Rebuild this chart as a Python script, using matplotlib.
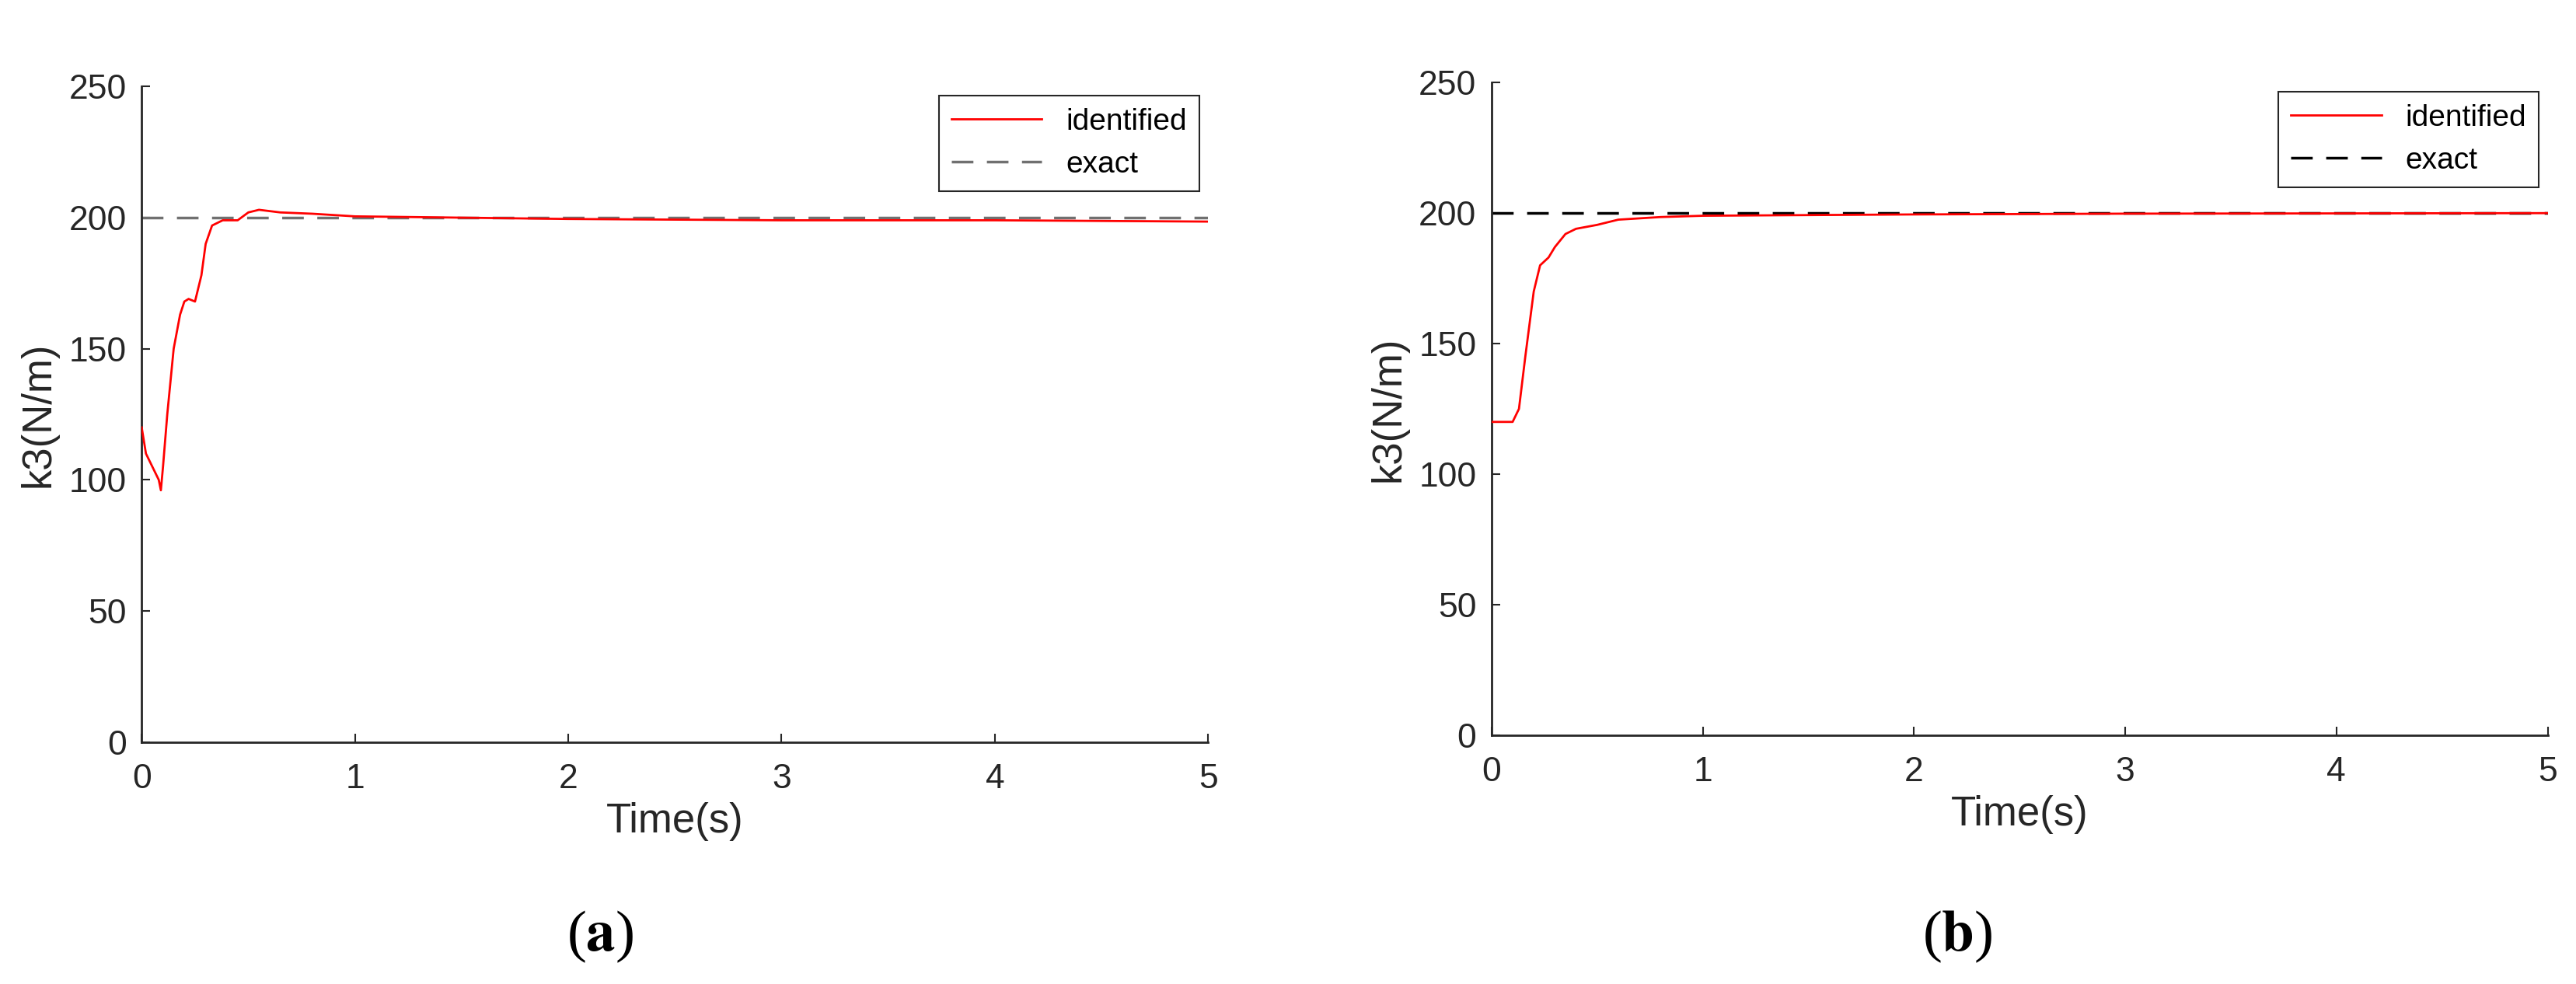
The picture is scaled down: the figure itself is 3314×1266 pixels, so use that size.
import matplotlib

matplotlib.use("Agg")
import matplotlib.pyplot as plt

plt.rcParams["font.family"] = ["Liberation Sans", "DejaVu Sans"]

t_a = [0, 0.02, 0.05, 0.08, 0.09, 0.1, 0.12, 0.15, 0.18, 0.2, 0.22, 0.25, 0.28, 0.3, 0.33,
       0.38, 0.45, 0.5, 0.55, 0.65, 0.8, 1.0, 1.5, 2, 3, 4, 5]
k_a = [120, 110, 105, 100, 96, 105, 125, 150, 163, 168, 169, 168, 178, 190, 197,
       199, 199, 202, 203, 202, 201.5, 200.5, 200, 199.5, 199, 199, 198.5]
t_b = [0, 0.1, 0.13, 0.16, 0.2, 0.23, 0.27, 0.3, 0.35, 0.4, 0.5, 0.6, 0.8, 1, 2, 3, 5]
k_b = [120, 120, 125, 145, 170, 180, 183, 187, 192, 194, 195.5, 197.5, 198.5, 199, 199.5, 199.8, 200]
exact = 200
xticks = [0, 1, 2, 3, 4, 5]
yticks = [0, 50, 100, 150, 200, 250]


def draw(ax, t, k, exact_color):
    ax.plot(t, k, color="red", lw=2, label="identified", zorder=3)
    ax.plot([0, 5], [exact, exact], color=exact_color, lw=2.5, ls=(0, (8, 5)), label="exact", zorder=2)
    ax.set_xlim(0, 5)
    ax.set_ylim(0, 250)
    ax.set_xticks(xticks)
    ax.set_yticks(yticks)
    ax.tick_params(labelsize=32, colors="#262626", length=8, width=1.5, direction="in")
    ax.tick_params(axis="x", pad=20)
    ax.tick_params(axis="y", pad=14)
    for side in ["top", "right"]:
        ax.spines[side].set_visible(False)
    for side in ["left", "bottom"]:
        ax.spines[side].set_linewidth(2)
        ax.spines[side].set_color("#262626")
    ax.set_xlabel("Time(s)", fontsize=38, color="#262626", labelpad=6)
    ax.set_ylabel("k3(N/m)", fontsize=38, color="#262626", labelpad=10)
    leg = ax.legend(loc="upper right", fontsize=28, fancybox=False, framealpha=1,
                    edgecolor="#262626", handlelength=3, borderaxespad=0.3)
    leg.get_frame().set_linewidth(1.5)


fig = plt.figure(figsize=(33.14, 12.66), dpi=100)
ax1 = fig.add_axes([0.055, 0.246, 0.414, 0.666])
ax2 = fig.add_axes([0.579, 0.253, 0.41, 0.663])
draw(ax1, t_a, k_a, "#707070")
draw(ax2, t_b, k_b, "black")
for x, tag in [(0.233, "a"), (0.76, "b")]:
    fig.text(x, 0.048, r"($\mathbf{" + tag + r"}$)", ha="center", va="center", fontsize=54,
             family="Liberation Serif", math_fontfamily="stix")
fig.savefig("out.png")
